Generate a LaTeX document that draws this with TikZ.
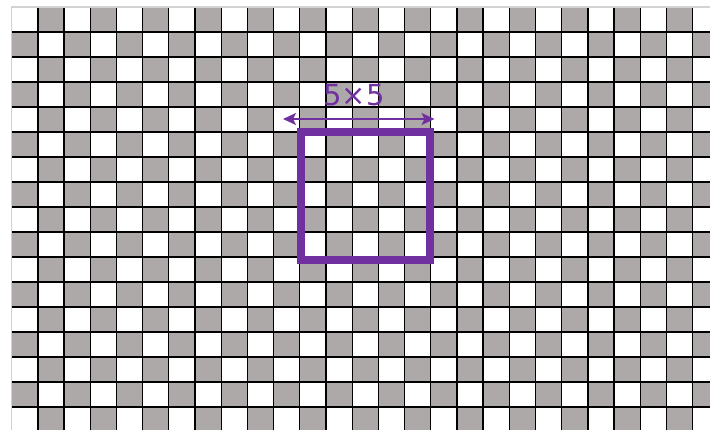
\documentclass[tikz,border=0pt]{standalone}
\usepackage{fontspec}
\setmainfont{DejaVu Sans}
\usetikzlibrary{arrows.meta}
\definecolor{cellgray}{HTML}{ADA9A8}
\definecolor{edgegray}{HTML}{D2D2D2}
\definecolor{boxpurple}{HTML}{7030A0}
\begin{document}
\begin{tikzpicture}[x=1pt,y=-1pt,
  gridline/.style={black,line width=1.3pt},
  borderline/.style={edgegray,line width=1.3pt},
  window/.style={boxpurple,line width=8pt},
  dimarrow/.style={boxpurple,line width=2pt,{Stealth[length=13pt,width=12pt,inset=3pt]}-{Stealth[length=13pt,width=12pt,inset=3pt]}},
  dimlabel/.style={text=boxpurple,font=\fontsize{29}{30}\selectfont,inner sep=0pt}]
\useasboundingbox (0,0) rectangle (710,430);
\clip (0,0) rectangle (710,430);
\fill[white] (0,0) rectangle (710,430);
% checkerboard cells
\foreach \i in {0,...,26}{
  \foreach \j in {0,...,16}{
    \pgfmathtruncatemacro\oddcell{mod(\i+\j,2)}
    \ifnum\oddcell=1
      \fill[cellgray] ({11.7+26.19*\i},{7+25*\j}) rectangle ++(26.19,25);
    \fi
  }
}
% grid lines
\foreach \j in {1,...,17}{
  \draw[gridline] (11.7,{7+25*\j}) -- (712,{7+25*\j});
}
\foreach \i in {1,...,27}{
  \draw[gridline] ({11.7+26.19*\i},7) -- ({11.7+26.19*\i},432);
}
\draw[borderline] (11.7,432) -- (11.7,7) -- (712,7);
% 5x5 window
\draw[window] (301,132) rectangle (430,260);
% dimension arrow and label
\coordinate (aL) at (283,119);
\coordinate (aR) at (434.5,119);
\draw[dimarrow] (aL) -- (aR);
\node[dimlabel] (lbl) at (354,95.5) {5×5};
\end{tikzpicture}
\end{document}
